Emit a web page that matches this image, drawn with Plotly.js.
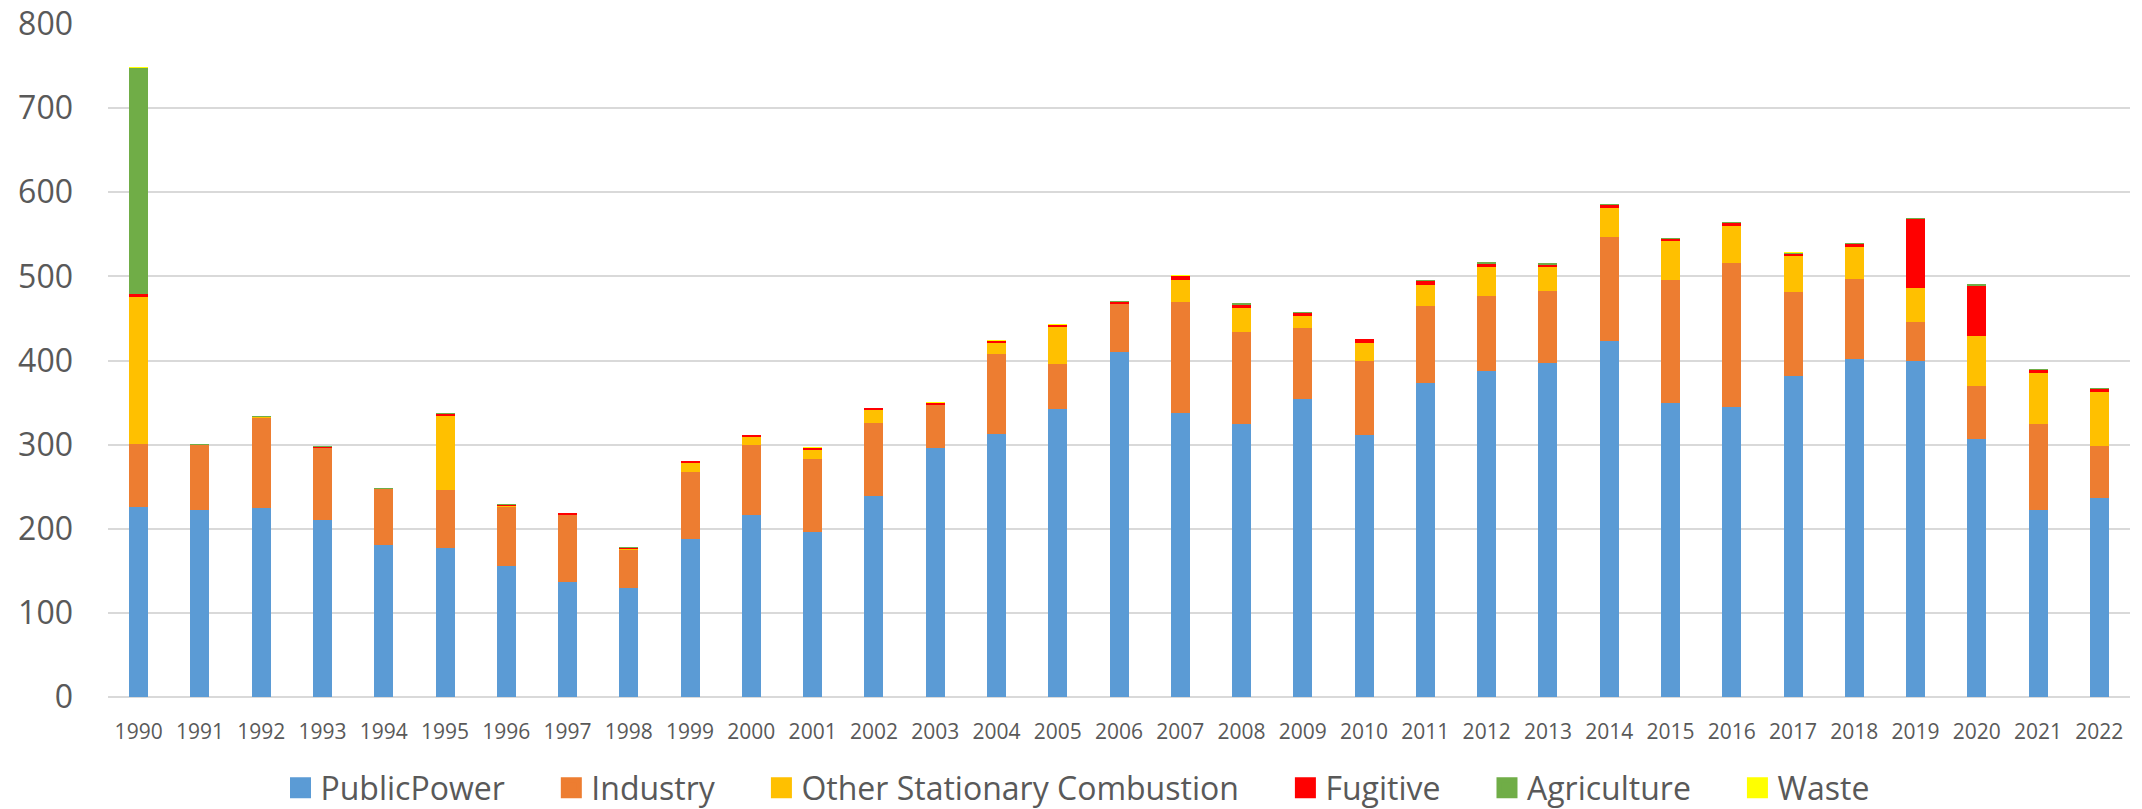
<!DOCTYPE html>
<html>
<head>
<meta charset="utf-8">
<script src="https://cdn.plot.ly/plotly-3.0.1.min.js"></script>
<style>html,body{margin:0;padding:0;background:#fff;}#chart{width:2142px;height:809px;}</style>
</head>
<body>
<div id="chart"></div>
<script>
const years = ["1990","1991","1992","1993","1994","1995","1996","1997","1998","1999","2000","2001","2002","2003","2004","2005","2006","2007","2008","2009","2010","2011","2012","2013","2014","2015","2016","2017","2018","2019","2020","2021","2022"];
const publicPower = [226,222,225,210,181,177,156,137,129,188,216,196,239,296,313,342,410,338,324,354,311,373,388,397,423,349,345,382,402,399,307,222,237];
const industry = [75,77,107,86,66,69,70,79,46,79,83,87,87,51,95,54,57,131,110,85,88,92,89,86,124,147,171,99,95,47,63,103,61];
const otherStationary = [174,0.3,0.3,0.3,0.3,88,0.5,0.5,0.5,11,10,11,15,0.3,13,44,0.3,27,29,14,22,25,34,28,34,46,44,43,38,40,59,60,64];
const fugitive = [4,0.3,0.3,0.3,0.3,3,2,2,2,2,2,2,2,2,2,2,2,4,3,4,4,5,4,3,4,3,3,3,3,82,60,4,4];
const agriculture = [269,1,1,1.5,1,0.5,0.5,0.5,0.5,0.5,0.5,0.5,0.5,0.5,0.5,0.5,1,1,2,0.5,0.5,0.5,2,1.5,1,0.5,1.5,1,1.5,1.5,1.5,1,1];
const waste = [0.3,0.3,0.3,0.3,0.3,0.3,0.3,0.3,0.3,0.3,0.3,0.3,0.3,0.3,1,0.3,0.3,0.5,0.5,0.3,0.3,0.3,0.5,0.3,0.5,0.3,0.3,0.5,0.3,0.3,0.3,0.3,0.3];
const seriesNames = ["PublicPower","Industry","Other Stationary Combustion","Fugitive","Agriculture","Waste"];
const yTicks = [0,100,200,300,400,500,600,700,800];

const colors = ["#5B9BD5","#ED7D31","#FFC000","#FF0000","#70AD47","#FFFF00"];
const values = [publicPower, industry, otherStationary, fugitive, agriculture, waste];
const pad = "\u00a0\u00a0\u00a0\u00a0\u00a0";

const barTraces = seriesNames.map((name, i) => ({
  type: "bar",
  name: name,
  x: years,
  y: values[i],
  marker: {color: colors[i], line: {width: 0}},
  showlegend: false,
  legendgroup: name
}));

// legend-only entries (square swatches like the original)
const legendTraces = seriesNames.map((name, i) => ({
  type: "scatter",
  mode: "markers",
  name: name + pad,
  x: [years[0]],
  y: [null],
  marker: {symbol: "square", size: 16, color: colors[i], line: {color: colors[i], width: 5}},
  showlegend: true,
  legendgroup: name,
  hoverinfo: "skip"
}));

const layout = {
  width: 2142,
  height: 809,
  barmode: "stack",
  bargap: 0.69,
  margin: {l: 108, r: 12, t: 24, b: 112, autoexpand: false},
  paper_bgcolor: "#ffffff",
  plot_bgcolor: "#ffffff",
  font: {family: "Open Sans, sans-serif", color: "#595959"},
  xaxis: {
    type: "category",
    categoryorder: "array",
    categoryarray: years,
    range: [-0.5, years.length - 0.5],
    tickfont: {size: 21, color: "#595959"},
    ticks: "",
    ticklabelstandoff: 20,
    showgrid: false,
    showline: false,
    zeroline: false
  },
  yaxis: {
    range: [0, 800],
    tickvals: yTicks,
    ticktext: yTicks.map(String),
    tickfont: {size: 32, color: "#595959"},
    ticks: "",
    ticklabelstandoff: 34,
    showgrid: true,
    gridcolor: "#d9d9d9",
    gridwidth: 2,
    zeroline: true,
    zerolinecolor: "#d9d9d9",
    zerolinewidth: 2,
    showline: false
  },
  legend: {
    orientation: "h",
    x: 0.0853,
    xanchor: "left",
    y: -0.176,
    yanchor: "bottom",
    font: {size: 32, color: "#595959"},
    traceorder: "normal",
    itemsizing: "trace",
    itemclick: false
  },
  showlegend: true
};

Plotly.newPlot("chart", barTraces.concat(legendTraces), layout, {displayModeBar: false, staticPlot: true});
</script>
</body>
</html>
